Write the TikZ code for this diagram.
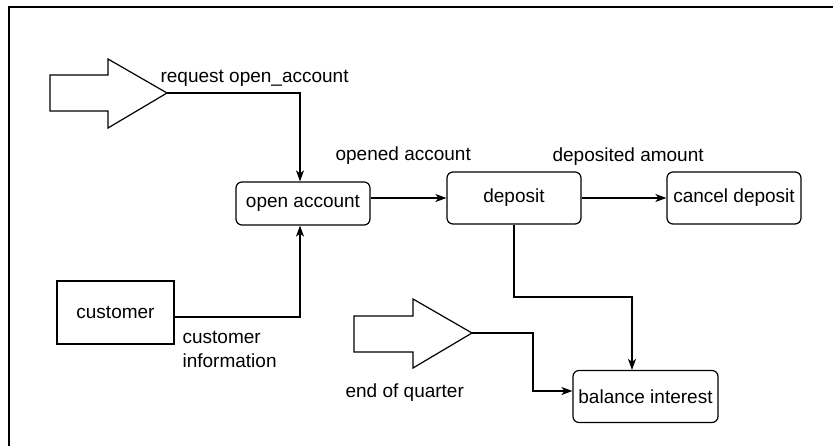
\documentclass[tikz,border=0pt]{standalone}
\usepackage{fontspec}
\setmainfont{Liberation Sans}
\usetikzlibrary{arrows.meta}
\begin{document}
\begin{tikzpicture}[x=1pt,y=-1pt,
  line width=1.2pt,
  font=\fontsize{19}{23}\selectfont,
  proc/.style={draw,rounded corners=6pt,minimum width=134pt,minimum height=52pt,inner sep=1pt},
  ext/.style={draw,minimum width=117pt,minimum height=63pt},
  flow/.style={-{Stealth[length=11pt,width=8pt,inset=3pt]}},
  lbl/.style={anchor=base west,inner sep=0pt}]
\useasboundingbox (0,0) rectangle (833,446);
% frame
\draw (833,7) -- (9,7) -- (9,446);

% processes
\node[proc,minimum height=43pt] (open) at (303,203.5) {open account};
\node[proc] (dep) at (514,198) {deposit};
\node[proc] (cancel) at (734,198) {cancel deposit};
\node[proc,minimum width=145pt] (bal) at (645.5,396.5) {balance interest};
\node[ext] (cust) at (115.5,312.5) {customer};

% event arrows
\draw (50,75) -- (108,75) -- (108,59) -- (167,93) -- (108,128) -- (108,111) -- (50,111) -- cycle;
\coordinate (rq) at (167,93);
\draw (354,316) -- (413,316) -- (413,299) -- (472,333) -- (413,368) -- (413,352) -- (354,352) -- cycle;
\coordinate (eq) at (472,333);

% flows
\draw[flow] (rq) -| (open.north -| 300,0);
\draw[flow] (cust.east |- 0,317) -| (open.south -| 300,0);
\draw[flow] (open.east |- dep.west) -- (dep.west);
\draw[flow] (dep.east) -- (cancel.west);
\draw[flow] (dep.south) |- (574,297) -| (bal.north -| 632,0);
\draw[flow] (eq) -| (533,391) -- (bal.west |- 0,391);

% labels
\node[lbl] at (160,83) {request open\_account};
\node[lbl] at (335,161) {opened account};
\node[lbl] at (552,162) {deposited amount};
\node[lbl] at (182,344) {customer};
\node[lbl] at (182,367) {information};
\node[lbl] at (345,398) {end of quarter};
\end{tikzpicture}
\end{document}
